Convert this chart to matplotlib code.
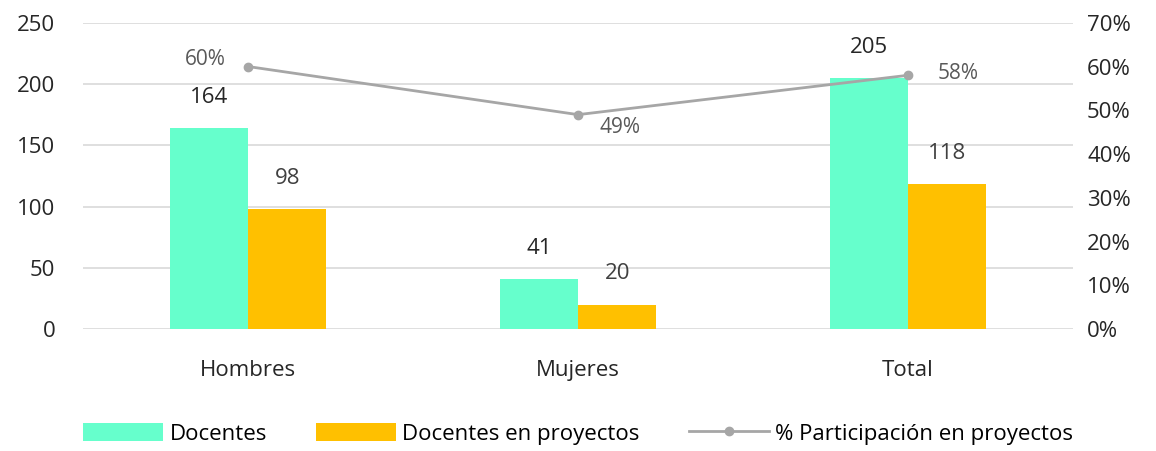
import matplotlib.pyplot as plt
import numpy as np

plt.rcParams['font.family'] = ['Open Sans', 'DejaVu Sans']

categorias = ['Hombres', 'Mujeres', 'Total']
docentes = [164, 41, 205]
docentes_proyectos = [98, 20, 118]
participacion = [0.60, 0.49, 0.58]

verde = '#66FFCC'
naranja = '#FFC000'
gris = '#A6A6A6'

fig = plt.figure(figsize=(11.56, 4.51), dpi=100)
ax = fig.add_axes([0.0718, 0.2705, 0.8565, 0.679])
ax2 = ax.twinx()

x = np.arange(len(categorias))
w = 0.237
b1 = ax.bar(x - w / 2, docentes, w, color=verde, label='Docentes', zorder=2)
b2 = ax.bar(x + w / 2, docentes_proyectos, w, color=naranja, label='Docentes en proyectos', zorder=2)

for xi, v in zip(x - w / 2, docentes):
    ax.annotate(str(v), (xi, v), xytext=(0, 22), textcoords='offset points', ha='center', va='center',
                fontsize=16, color='#262626')
for xi, v in zip(x + w / 2, docentes_proyectos):
    ax.annotate(str(v), (xi, v), xytext=(0, 22), textcoords='offset points', ha='center', va='center',
                fontsize=16, color='#404040')

ax.set_ylim(0, 250)
ax.set_yticks(range(0, 251, 50))
ax.set_xlim(-0.5, 2.5)
ax.set_xticks(x)
ax.set_xticklabels(categorias, fontsize=16, color='#262626')
ax.grid(axis='y', color='#D9D9D9', linewidth=1.2, zorder=0)
ax.set_axisbelow(True)
ax.tick_params(axis='y', labelsize=16, colors='#262626', length=0, pad=20)
ax.tick_params(axis='x', length=0, pad=22)
for s in ax.spines.values():
    s.set_visible(False)

l, = ax2.plot(x, participacion, color=gris, marker='o', markersize=6, linewidth=2,
              label='% Participación en proyectos', zorder=3)
ax2.set_ylim(0, 0.7)
ax2.set_yticks(np.arange(0, 0.71, 0.1))
ax2.set_yticklabels([f'{int(round(t * 100))}%' for t in np.arange(0, 0.71, 0.1)])
ax2.tick_params(axis='y', labelsize=16, colors='#262626', length=0, pad=10)
for s in ax2.spines.values():
    s.set_visible(False)

offsets = [(-31, 5), (30, -9.5), (36, 1.5)]
for xi, v, off in zip(x, participacion, offsets):
    ax2.annotate(f'{int(round(v * 100))}%', (xi, v), xytext=off, textcoords='offset points',
                 ha='center', va='center', fontsize=15, color='#595959')

fig.legend(handles=[b1, b2, l], loc='lower center', ncol=3, frameon=False, fontsize=16,
           bbox_to_anchor=(0.5, -0.03), handlelength=3.6, handleheight=0.9, columnspacing=2.2,
           handletextpad=0.3)

fig.savefig('out.png', dpi=100)
